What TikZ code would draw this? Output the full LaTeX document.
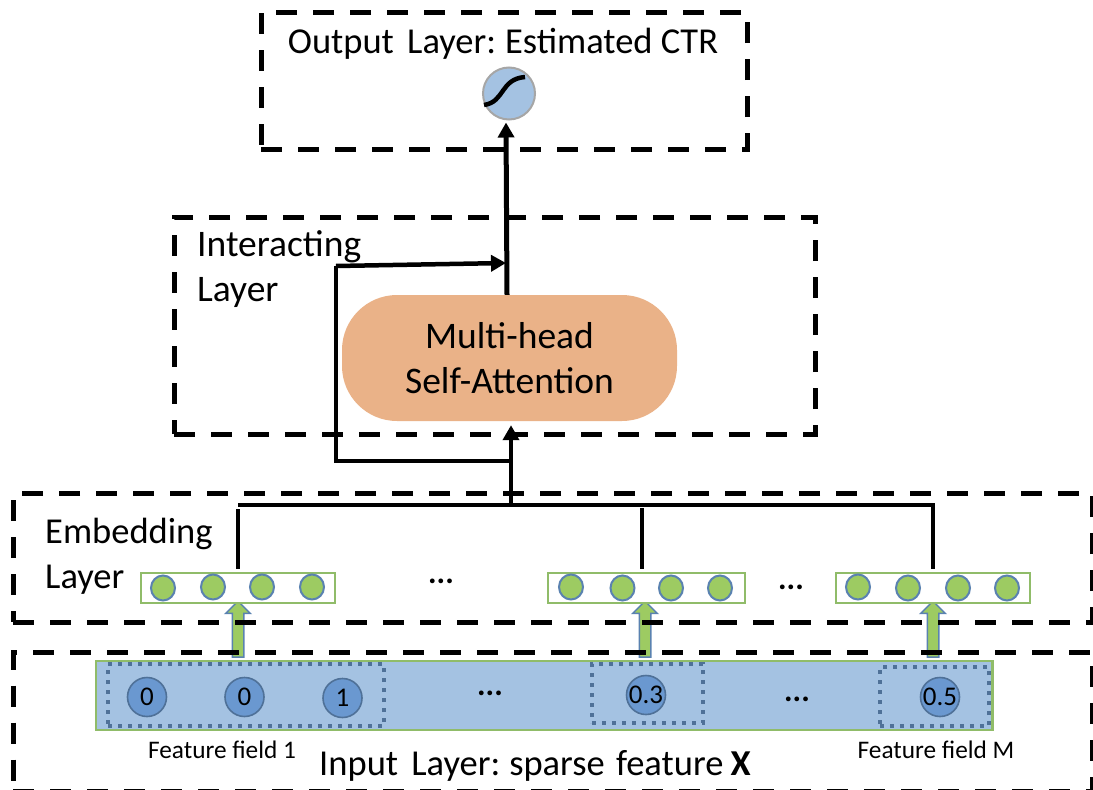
\documentclass[tikz,border=0pt]{standalone}
\usepackage{fontspec}
\setmainfont{Carlito}
\usetikzlibrary{arrows.meta,shapes.arrows,shapes.geometric}

\definecolor{leafgreen}{HTML}{9DCB62}
\definecolor{barborder}{HTML}{90BC69}
\definecolor{dotblue}{HTML}{5A82B0}
\definecolor{barblue}{HTML}{A4C2E2}
\definecolor{inputblue}{HTML}{6A98D0}
\definecolor{fieldblue}{HTML}{4F7198}
\definecolor{attnorange}{HTML}{EAB288}
\definecolor{sigmoidgray}{HTML}{A6A6A6}

\begin{document}
\begin{tikzpicture}[
        x = 1pt,
        y = -1pt,
        line join=miter,
        layerbox/.style = {draw=black, line width=5pt, dash pattern=on 21pt off 16pt, inner sep=0pt, outer sep=0pt},
        embedrow/.style = {draw=barborder, line width=2.5pt, fill=white, minimum width=194pt, minimum height=30pt, inner sep=0pt},
        leaf/.style = {draw=dotblue, line width=2pt, fill=leafgreen, inner sep=0pt, minimum width=24pt, minimum height=25pt, ellipse},
        inputval/.style = {draw=fieldblue, line width=1.6pt, fill=inputblue, circle, inner sep=0pt, minimum size=39pt, font=\fontsize{27}{27}\selectfont},
        fieldbox/.style = {draw=fieldblue, line width=3.5pt, dash pattern=on 4pt off 6pt, inner sep=0pt},
        liftarrow/.style = {draw=dotblue, line width=1.5pt, fill=leafgreen, single arrow, shape border rotate=90, inner sep=5pt, minimum height=56pt, single arrow head extend=6.5pt, single arrow tip angle=90},
        blackline/.style = {line width=4.5pt, black},
        blackarrow/.style = {line width=4.5pt, black, -{Triangle[length=15pt,width=16pt]}},
        biglabel/.style = {font=\fontsize{36.5}{45}\selectfont, inner sep=0pt},
        widelabel/.style = {font=\fontsize{37.5}{45}\selectfont, inner sep=0pt},
        smalllabel/.style = {font=\fontsize{25.3}{25.3}\selectfont, inner sep=0pt},
        dotslabel/.style = {font=\bfseries\fontsize{32}{32}\selectfont, inner sep=0pt}
    ]

    \useasboundingbox (0,0) rectangle (1093,790);

    \node[liftarrow] (lift1) at (238,632) {};
    \node[liftarrow] (lift2) at (645,632) {};
    \node[liftarrow] (lift3) at (933,632) {};

    % the four layers
    \node[layerbox, minimum width=486pt, minimum height=137pt] (outputlayer) at (504,80.5) {};
    \node[layerbox, minimum width=641pt, minimum height=217pt] (interactlayer) at (494.5,325.5) {};
    \node[layerbox, minimum width=1079pt, minimum height=129pt] (embedlayer) at (552.5,557.5) {};
    \node[layerbox, minimum width=1079pt, minimum height=139.5pt] (inputlayer) at (552.5,721.75) {};

    \node[biglabel, anchor=base] (outputtext) at (503,53) {Output\hspace{5pt} Layer:\hspace{-2pt} Estimated CTR};
    \node[draw=sigmoidgray, line width=2pt, fill=barblue, circle, minimum size=52pt, inner sep=0pt] (sigmoid) at (509,93.5) {};
    \draw[line width=4.5pt, black] (484,105) .. controls (505,102) and (500,79) .. (525,77);

    \node[widelabel, anchor=west, align=left] (interacttext) at (197,269) {Interacting\\Layer};
    \node[draw=none, fill=attnorange, rounded corners=55pt, minimum width=335pt, minimum height=126pt, inner sep=0pt, align=center, widelabel] (attention) at (509.5,358) {Multi-head\\Self-Attention};

    \node[biglabel, anchor=west, align=left] (embedtext) at (45,556) {Embedding\\Layer};

    \node[embedrow] (emb1) at (238,588) {};
    \node[embedrow, minimum width=197pt] (emb2) at (646.5,588) {};
    \node[embedrow] (emb3) at (933,588) {};

    \node[leaf] (leaf11) at (163,588) {};
    \node[leaf] (leaf12) at (213,587) {};
    \node[leaf] (leaf13) at (262,587) {};
    \node[leaf] (leaf14) at (312,587) {};
    \node[leaf] (leaf21) at (571,587) {};
    \node[leaf] (leaf22) at (622.5,588) {};
    \node[leaf] (leaf23) at (671,588) {};
    \node[leaf] (leaf24) at (720,588) {};
    \node[leaf] (leaf31) at (858,587) {};
    \node[leaf] (leaf32) at (908,588) {};
    \node[leaf] (leaf33) at (958,588) {};
    \node[leaf] (leaf34) at (1007,588) {};

    \node[dotslabel] (dotsemb1) at (441,581) {...};
    \node[dotslabel] (dotsemb2) at (791,587) {...};

    % the sparse input bar
    \node[draw=barborder, line width=2.5pt, fill=barblue, minimum width=896.5pt, minimum height=69pt, inner sep=0pt] (inputbar) at (544.25,695.5) {};
    \node[fieldbox, minimum width=276pt, minimum height=62pt] (field1) at (246,695) {};
    \node[fieldbox, minimum width=111pt, minimum height=59pt] (field2) at (647.5,693.5) {};
    \node[fieldbox, minimum width=109pt, minimum height=59pt] (field3) at (934.5,696.5) {};

    \node[inputval] (val1) at (147,697) {0};
    \node[inputval] (val2) at (244.5,697) {0};
    \node[inputval] (val3) at (342.5,698) {1};
    \node[inputval] (val4) at (646,695) {0.3};
    \node[inputval] (val5) at (940,697) {0.5};

    \node[dotslabel] (dotsinput1) at (490,693) {...};
    \node[dotslabel] (dotsinput2) at (797,699) {...};

    \node[smalllabel, anchor=base] (fieldtext1) at (222,758) {Feature field 1};
    \node[smalllabel, anchor=base] (fieldtext2) at (936,758) {Feature field M};
    \node[biglabel, anchor=base] (inputtext) at (535,775) {Input\hspace{5pt} Layer:\hspace{-2pt} sparse\hspace{3pt} feature\hspace{-1pt} \textbf{X}};

    % connectors
    \coordinate (busleft) at (emb1.north |- 0,505);
    \coordinate (busright) at (emb3.north |- 0,505);
    \coordinate (buscenter) at (511,505);
    \coordinate (skipstart) at (511,461);
    \coordinate (skipbottom) at (336,461);
    \coordinate (skiptop) at (336,266);
    \coordinate (skipend) at (506,263);

    \draw[blackline] (busleft) -- (busright) -- ([yshift=3pt]emb3.north);
    \draw[blackline] ([yshift=3pt]emb1.north) -- (emb1.north |- 0,509);
    \draw[blackline] ([xshift=-4.5pt,yshift=3pt]emb2.north) -- ++(0,-61);
    \draw[blackarrow] (buscenter) -- ([xshift=1.5pt,yshift=-4pt]attention.south);
    \draw[blackline] (skipstart) -- (skipbottom) -- (skiptop);
    \draw[blackarrow] (skiptop) -- (skipend);
    \draw[blackarrow, line width=5pt] ([xshift=-2.5pt]attention.north) -- ([xshift=-3pt,yshift=-2pt]sigmoid.south);

\end{tikzpicture}
\end{document}
